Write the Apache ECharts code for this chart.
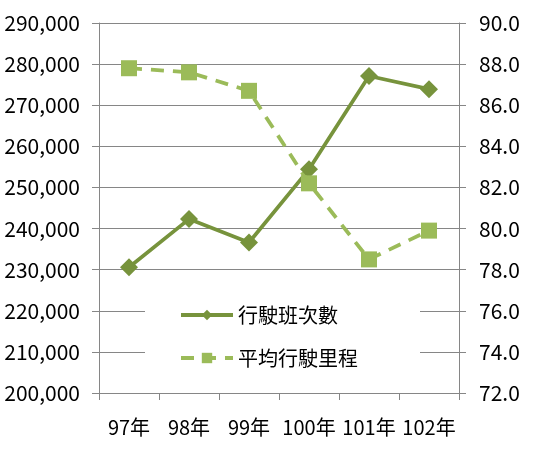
<!DOCTYPE html>
<html><head><meta charset="utf-8">
<script src="https://cdn.jsdelivr.net/npm/echarts@6/dist/echarts.min.js"></script>
<style>html,body{margin:0;padding:0;background:#fff}#c{width:543px;height:450px}</style>
</head><body><div id="c"></div>
<script>
const categories = ['97年','98年','99年','100年','101年','102年'];
const trips = [230600, 242300, 236600, 254400, 277100, 273900];
const mileage = [87.8, 87.6, 86.7, 82.2, 78.5, 79.9];
const seriesNames = ['行駛班次數','平均行駛里程'];

const FONT = '"Noto Sans CJK TC", "Noto Sans", sans-serif';
const chart = echarts.init(document.getElementById('c'), null, {renderer:'canvas'});
chart.setOption({
  animation:false,
  textStyle:{fontFamily:FONT},
  grid:{left:99, right:84, top:23, bottom:57},
  legend:{
    orient:'vertical', left:145, top:299, itemGap:23,
    itemWidth:52, itemHeight:13,
    backgroundColor:'#fff', padding:[6,62,6,34],
    textStyle:{fontFamily:FONT, fontSize:20, color:'#000', padding:[0,0,0,0]},
    data:[
      {name:seriesNames[0], lineStyle:{width:4}},
      {name:seriesNames[1], lineStyle:{width:4}}
    ]
  },
  xAxis:{
    type:'category', data:categories, boundaryGap:true,
    axisLine:{lineStyle:{color:'#868686', width:1}},
    axisTick:{show:true, length:7, lineStyle:{color:'#868686'}},
    axisLabel:{fontFamily:FONT, fontSize:20, color:'#000', margin:24, interval:0}
  },
  yAxis:[{
    type:'value', min:200000, max:290000, interval:10000,
    axisLine:{show:true, lineStyle:{color:'#868686'}},
    axisTick:{show:true, length:7, lineStyle:{color:'#868686'}},
    splitLine:{lineStyle:{color:'#868686', width:1}},
    axisLabel:{fontFamily:FONT, fontSize:21, color:'#000', margin:19,
      formatter:v=>v.toLocaleString('en-US')}
  },{
    type:'value', min:72, max:90, interval:2,
    axisLine:{show:true, lineStyle:{color:'#868686'}},
    axisTick:{show:true, length:7, lineStyle:{color:'#868686'}},
    splitLine:{show:false},
    axisLabel:{fontFamily:FONT, fontSize:21, color:'#000', margin:20,
      formatter:v=>v.toFixed(1)}
  }],
  series:[{
    name:seriesNames[0], type:'line', data:trips, yAxisIndex:0,
    symbol:'diamond', symbolSize:18,
    lineStyle:{color:'#77933C', width:3.75},
    itemStyle:{color:'#77933C'}
  },{
    name:seriesNames[1], type:'line', data:mileage, yAxisIndex:1,
    symbol:'rect', symbolSize:16,
    lineStyle:{color:'#9BBB59', width:3.75, type:[13,9]},
    itemStyle:{color:'#9BBB59'}
  }]
});
</script></body></html>
